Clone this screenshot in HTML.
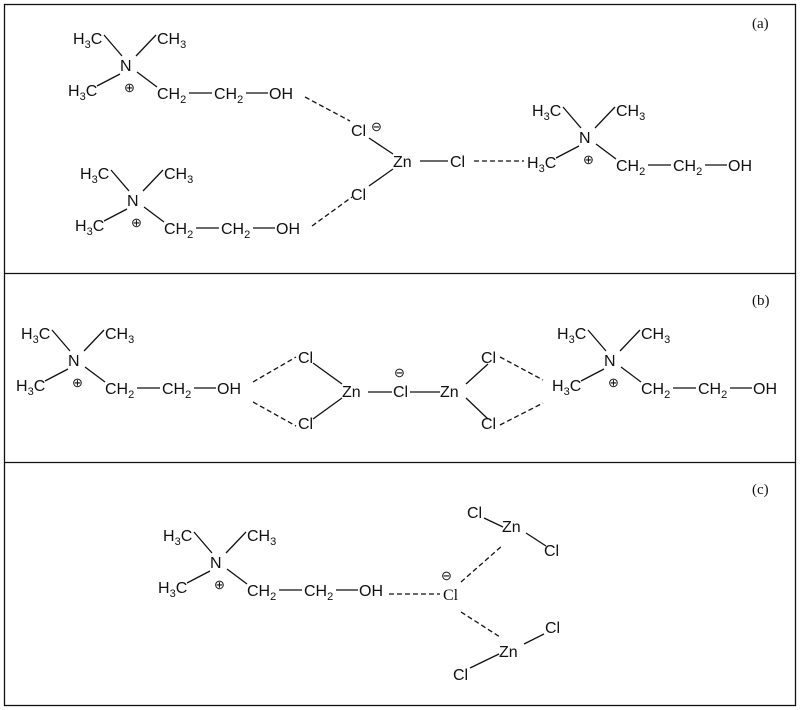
<!DOCTYPE html><html><head><style>body{margin:0;background:#fff}svg{display:block}text{font-family:"Liberation Sans",sans-serif;font-size:16px;fill:#111}.s{font-size:11px}.l{font-family:"Liberation Serif",serif;font-size:15px}</style></head><body>
<svg width="800" height="710" viewBox="0 0 800 710" stroke="#111" stroke-width="1.3" fill="none">
<rect x="4.5" y="4.5" width="791" height="701"/>
<line x1="4" y1="273.5" x2="796" y2="273.5"/><line x1="4" y1="462.5" x2="796" y2="462.5"/>
<g stroke="none"><text class="l" x="752" y="28">(a)</text><text class="l" x="752" y="305">(b)</text><text class="l" x="752" y="494">(c)</text></g>

<g transform="translate(0,0)">
<g stroke="none"><text x="73" y="44">H<tspan class="s" dy="4">3</tspan><tspan dy="-4">C</tspan></text><text x="157" y="44">CH<tspan class="s" dy="4">3</tspan></text><text x="120" y="71">N</text><text x="68" y="96">H<tspan class="s" dy="4">3</tspan><tspan dy="-4">C</tspan></text><text x="124" y="92" style="font-size:13px">⊕</text><text x="157" y="99">CH<tspan class="s" dy="4">2</tspan></text><text x="214" y="99">CH<tspan class="s" dy="4">2</tspan></text><text x="269" y="99">OH</text></g>
<path d="M104 35L122 56M156 35L136 56M97 86L120 74M137 72L157 87M189 93H212M246 93H268"/></g>
<g transform="translate(7,135)">
<g stroke="none"><text x="73" y="44">H<tspan class="s" dy="4">3</tspan><tspan dy="-4">C</tspan></text><text x="157" y="44">CH<tspan class="s" dy="4">3</tspan></text><text x="120" y="71">N</text><text x="68" y="96">H<tspan class="s" dy="4">3</tspan><tspan dy="-4">C</tspan></text><text x="124" y="92" style="font-size:13px">⊕</text><text x="157" y="99">CH<tspan class="s" dy="4">2</tspan></text><text x="214" y="99">CH<tspan class="s" dy="4">2</tspan></text><text x="269" y="99">OH</text></g>
<path d="M104 35L122 56M156 35L136 56M97 86L120 74M137 72L157 87M189 93H212M246 93H268"/></g>
<g transform="translate(459,72)">
<g stroke="none"><text x="73" y="44">H<tspan class="s" dy="4">3</tspan><tspan dy="-4">C</tspan></text><text x="157" y="44">CH<tspan class="s" dy="4">3</tspan></text><text x="120" y="71">N</text><text x="68" y="96">H<tspan class="s" dy="4">3</tspan><tspan dy="-4">C</tspan></text><text x="124" y="92" style="font-size:13px">⊕</text><text x="157" y="99">CH<tspan class="s" dy="4">2</tspan></text><text x="214" y="99">CH<tspan class="s" dy="4">2</tspan></text><text x="269" y="99">OH</text></g>
<path d="M104 35L122 56M156 35L136 56M97 86L120 74M137 72L157 87M189 93H212M246 93H268"/></g>
<g transform="translate(-52,295)">
<g stroke="none"><text x="73" y="44">H<tspan class="s" dy="4">3</tspan><tspan dy="-4">C</tspan></text><text x="157" y="44">CH<tspan class="s" dy="4">3</tspan></text><text x="120" y="71">N</text><text x="68" y="96">H<tspan class="s" dy="4">3</tspan><tspan dy="-4">C</tspan></text><text x="124" y="92" style="font-size:13px">⊕</text><text x="157" y="99">CH<tspan class="s" dy="4">2</tspan></text><text x="214" y="99">CH<tspan class="s" dy="4">2</tspan></text><text x="269" y="99">OH</text></g>
<path d="M104 35L122 56M156 35L136 56M97 86L120 74M137 72L157 87M189 93H212M246 93H268"/></g>
<g transform="translate(484,295)">
<g stroke="none"><text x="73" y="44">H<tspan class="s" dy="4">3</tspan><tspan dy="-4">C</tspan></text><text x="157" y="44">CH<tspan class="s" dy="4">3</tspan></text><text x="120" y="71">N</text><text x="68" y="96">H<tspan class="s" dy="4">3</tspan><tspan dy="-4">C</tspan></text><text x="124" y="92" style="font-size:13px">⊕</text><text x="157" y="99">CH<tspan class="s" dy="4">2</tspan></text><text x="214" y="99">CH<tspan class="s" dy="4">2</tspan></text><text x="269" y="99">OH</text></g>
<path d="M104 35L122 56M156 35L136 56M97 86L120 74M137 72L157 87M189 93H212M246 93H268"/></g>
<g transform="translate(90,497)">
<g stroke="none"><text x="73" y="44">H<tspan class="s" dy="4">3</tspan><tspan dy="-4">C</tspan></text><text x="157" y="44">CH<tspan class="s" dy="4">3</tspan></text><text x="120" y="71">N</text><text x="68" y="96">H<tspan class="s" dy="4">3</tspan><tspan dy="-4">C</tspan></text><text x="124" y="92" style="font-size:13px">⊕</text><text x="157" y="99">CH<tspan class="s" dy="4">2</tspan></text><text x="214" y="99">CH<tspan class="s" dy="4">2</tspan></text><text x="269" y="99">OH</text></g>
<path d="M104 35L122 56M156 35L136 56M97 86L120 74M137 72L157 87M189 93H212M246 93H268"/></g>

<g stroke="none"><text x="351" y="136">Cl</text><text x="371" y="131" style="font-size:13px">⊖</text><text x="393" y="167">Zn</text><text x="450" y="167">Cl</text><text x="351" y="200">Cl</text></g>
<path d="M369 138L393 154M369 186L393 169M420 161H448"/>
<path stroke-dasharray="5,3" d="M305 97L350 121M312 226L352 197M474 161H524"/>
<g stroke="none"><text x="298" y="363">Cl</text><text x="298" y="429">Cl</text><text x="342" y="397">Zn</text><text x="393" y="397">Cl</text><text x="394" y="377" style="font-size:13px">⊖</text><text x="440" y="397">Zn</text><text x="481" y="363">Cl</text><text x="481" y="429">Cl</text></g>
<path d="M313 363L342 384M313 419L342 398M368 392H392M410 392H440M466 384L488 364M466 398L488 419"/>
<path stroke-dasharray="5,3" d="M253 382L296 357M253 402L296 426M500 357L543 380M500 425L543 403"/>
<g stroke="none"><text x="467" y="518">Cl</text><text x="502" y="532">Zn</text><text x="544" y="556">Cl</text><text class="l" x="443" y="600" style="font-size:16px">Cl</text><text x="441" y="580" style="font-size:13px">⊖</text><text x="499" y="657">Zn</text><text x="545" y="633">Cl</text><text x="453" y="680">Cl</text></g>
<path d="M484 518L503 527M526 533L546 546M499 654L470 668M524 644L544 634"/>
<path stroke-dasharray="5,3" d="M389 594H440M461 582L503 545M461 612L500 637"/>
</svg></body></html>
